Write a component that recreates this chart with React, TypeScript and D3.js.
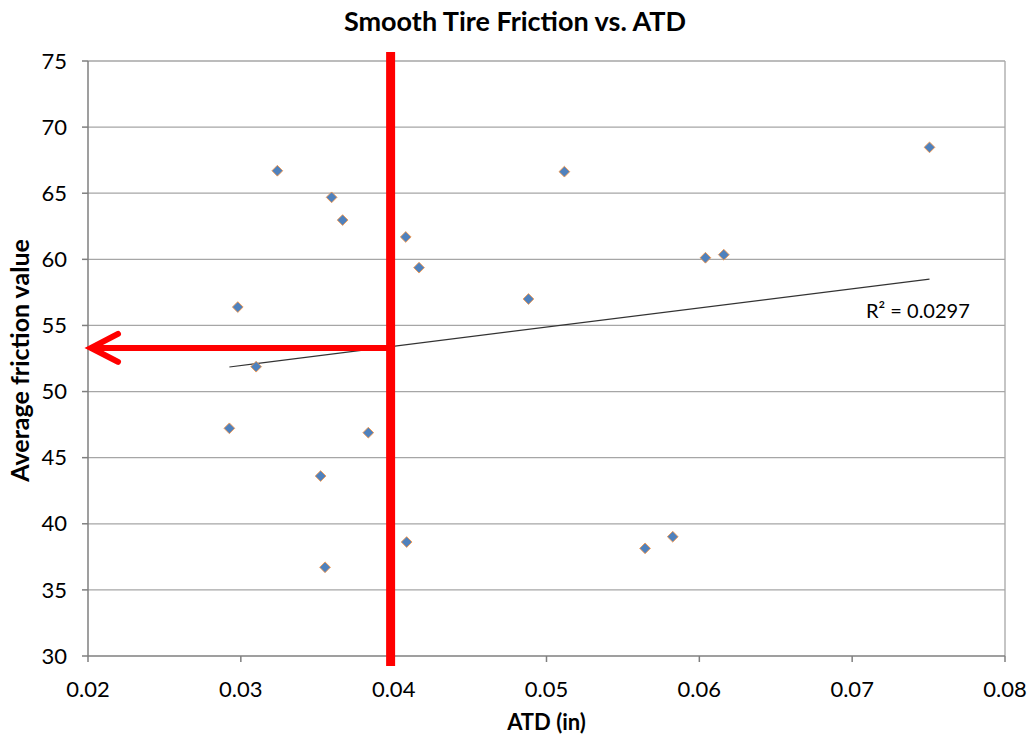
import * as d3 from "d3";

// DATA
const atd = [0.02925, 0.0298, 0.031, 0.03239, 0.03522, 0.03551, 0.03594, 0.03666, 0.03834, 0.04079, 0.04085, 0.04166, 0.04882, 0.05117, 0.05645, 0.05826, 0.0604, 0.0616, 0.07506];
const friction = [47.22, 56.39, 51.88, 66.7, 43.61, 36.71, 64.69, 62.97, 46.89, 61.69, 38.62, 59.37, 57.0, 66.63, 38.14, 39.02, 60.12, 60.35, 68.47];
const xTicks = [0.02, 0.03, 0.04, 0.05, 0.06, 0.07, 0.08];
const yTicks = [30, 35, 40, 45, 50, 55, 60, 65, 70, 75];
const r2Label = "R² = 0.0297";
// red annotation: target ATD and the friction it reads off
const markerAtd = 0.0398;
const markerFriction = 53.3;

const width = 1034;
const height = 740;
const marginLeft = 88;
const marginRight = 29;
const marginTop = 61;
const marginBottom = 84;
const font = "Lato, 'Open Sans', sans-serif";

export default function App() {
  const x = d3.scaleLinear([0.02, 0.08], [marginLeft, width - marginRight]);
  const y = d3.scaleLinear([30, 75], [height - marginBottom, marginTop]);

  // least squares trend line over the points
  const mx = d3.mean(atd)!;
  const my = d3.mean(friction)!;
  const slope = d3.sum(atd, (v, i) => (v - mx) * (friction[i] - my)) / d3.sum(atd, (v) => (v - mx) ** 2);
  const [x0, x1] = d3.extent(atd) as [number, number];
  const trend = d3.line<number>((v) => x(v), (v) => y(my + slope * (v - mx)));

  // excel style diamond = square turned 45deg
  const diamond = d3.symbol(d3.symbolSquare, 58)();
  const plotBottom = height - marginBottom;
  const plotRight = width - marginRight;
  const ay = y(markerFriction);
  const ax = x(markerAtd);

  return (
    <svg width={width} height={height} style={{position: "absolute", left: 0, top: 0, background: "#fff"}} fontFamily={font}>
      <text x={515} y={31} textAnchor="middle" fontSize={27} fontWeight="bold" fill="#000">Smooth Tire Friction vs. ATD</text>

      {/* grid */}
      <g stroke="#a6a6a6" strokeWidth={1.3}>
        {yTicks.slice(1).map((t) => (
          <line key={t} x1={marginLeft} x2={plotRight} y1={y(t)} y2={y(t)} />
        ))}
        <line x1={plotRight} x2={plotRight} y1={marginTop} y2={plotBottom} />
      </g>

      {/* axes */}
      <g stroke="#7f7f7f" strokeWidth={1.5}>
        <line x1={marginLeft} x2={marginLeft} y1={marginTop} y2={plotBottom} />
        <line x1={marginLeft} x2={plotRight} y1={plotBottom} y2={plotBottom} />
        {yTicks.map((t) => (
          <line key={t} x1={marginLeft - 6} x2={marginLeft} y1={y(t)} y2={y(t)} />
        ))}
        {xTicks.map((t) => (
          <line key={t} x1={x(t)} x2={x(t)} y1={plotBottom} y2={plotBottom + 6} />
        ))}
      </g>
      <g fontSize={22} fill="#000">
        {yTicks.map((t) => (
          <text key={t} x={marginLeft - 21} y={y(t)} dy="0.35em" textAnchor="end">{t}</text>
        ))}
        {xTicks.map((t) => (
          <text key={t} x={x(t)} y={plotBottom + 41} textAnchor="middle">{d3.format(".2f")(t)}</text>
        ))}
      </g>
      <text x={(marginLeft + plotRight) / 2} y={730} textAnchor="middle" fontSize={22} fontWeight="bold">ATD (in)</text>
      <text transform={`translate(29,${(marginTop + plotBottom) / 2 + 2}) rotate(-90)`} textAnchor="middle" fontSize={25} fontWeight="bold">Average friction value</text>

      {/* trend line */}
      <path d={trend([x0, x1])!} fill="none" stroke="#333" strokeWidth={1.2} />
      <text x={866} y={318} fontSize={20} fill="#000">{r2Label}</text>

      {/* points */}
      <g fill="#4f81bd" stroke="#f79646" strokeWidth={0.8}>
        {atd.map((v, i) => (
          <path key={i} d={diamond} transform={`translate(${x(v)},${y(friction[i])}) rotate(45)`} />
        ))}
      </g>

      {/* red annotation */}
      <g stroke="#ff0000" fill="none">
        <line x1={ax} x2={ax} y1={marginTop - 9} y2={plotBottom + 10} strokeWidth={9} />
        <line x1={ax} x2={marginLeft + 2} y1={ay} y2={ay} strokeWidth={6} />
        <polyline points={`${marginLeft + 30},${ay - 14} ${marginLeft + 3},${ay} ${marginLeft + 30},${ay + 14}`} strokeWidth={6} strokeLinecap="round" strokeLinejoin="miter" />
      </g>
    </svg>
  );
}
